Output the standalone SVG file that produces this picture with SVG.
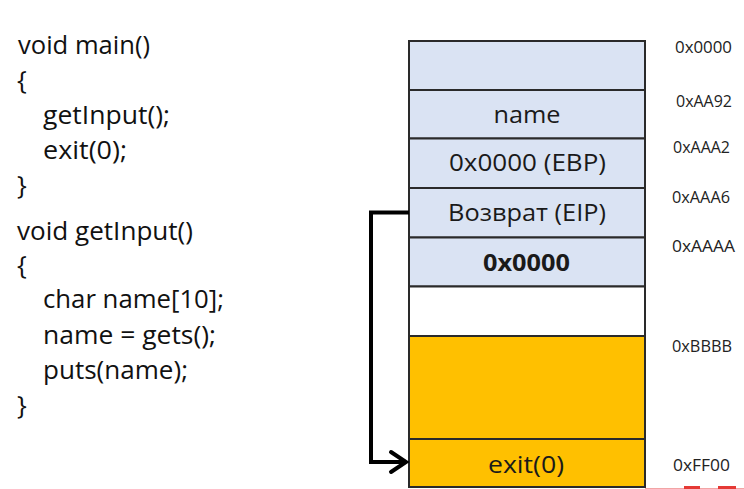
<svg xmlns="http://www.w3.org/2000/svg" width="744" height="489" viewBox="0 0 744 489">
  <defs>
    <style>
      .code { font-family: "Open Sans", "Liberation Sans", sans-serif; font-size: 26px; fill: #111; }
      .cell { font-family: "Open Sans", "Liberation Sans", sans-serif; font-size: 23.5px; fill: #1a1a1a; text-anchor: middle; }
      .bold { font-weight: bold; }
      .addr { font-family: "Open Sans", "Liberation Sans", sans-serif; font-size: 16px; fill: #222; }
      .blue { fill: #DAE3F3; stroke: #2a2a2a; stroke-width: 2; }
      .white { fill: #FFFFFF; stroke: #2a2a2a; stroke-width: 2; }
      .orange { fill: #FFC000; stroke: #2a2a2a; stroke-width: 2; }
      .conn { fill: none; stroke: #000; stroke-width: 4; stroke-linejoin: miter; }
      .head { fill: none; stroke: #000; stroke-width: 4; stroke-linecap: round; stroke-linejoin: miter; }
    </style>
  </defs>
  <rect width="744" height="489" fill="#FFFFFF"/>

  <g id="code">
    <text class="code" x="18" y="54" textLength="132" lengthAdjust="spacingAndGlyphs">void main()</text>
    <text class="code" x="17" y="89">{</text>
    <text class="code" x="43" y="124" textLength="127" lengthAdjust="spacingAndGlyphs">getInput();</text>
    <text class="code" x="43" y="159" textLength="84" lengthAdjust="spacingAndGlyphs">exit(0);</text>
    <text class="code" x="17" y="194">}</text>
    <text class="code" x="17" y="240" textLength="176" lengthAdjust="spacingAndGlyphs">void getInput()</text>
    <text class="code" x="17" y="274">{</text>
    <text class="code" x="43" y="308" textLength="181" lengthAdjust="spacingAndGlyphs">char name[10];</text>
    <text class="code" x="43" y="344" textLength="173" lengthAdjust="spacingAndGlyphs">name = gets();</text>
    <text class="code" x="43" y="379" textLength="145" lengthAdjust="spacingAndGlyphs">puts(name);</text>
    <text class="code" x="17" y="414">}</text>
  </g>

  <g id="cell-top"><rect class="blue" x="409" y="41" width="236" height="49"/></g>
  <g id="cell-name"><rect class="blue" x="409" y="90" width="236" height="48.5"/>
    <text class="cell" x="527" y="123" textLength="67" lengthAdjust="spacingAndGlyphs">name</text></g>
  <g id="cell-ebp"><rect class="blue" x="409" y="138.5" width="236" height="49.5"/>
    <text class="cell" x="527.5" y="171" textLength="157" lengthAdjust="spacingAndGlyphs">0x0000 (EBP)</text></g>
  <g id="cell-eip"><rect class="blue" x="409" y="188" width="236" height="49.5"/>
    <text class="cell" x="527" y="221" textLength="158" lengthAdjust="spacingAndGlyphs">Возврат (EIP)</text></g>
  <g id="cell-zero"><rect class="blue" x="409" y="237.5" width="236" height="49"/>
    <text class="cell bold" x="526.5" y="271" textLength="87" lengthAdjust="spacingAndGlyphs">0x0000</text></g>
  <g id="cell-empty"><rect class="white" x="409" y="286.5" width="236" height="49.5"/></g>
  <g id="cell-orange"><rect class="orange" x="409" y="336" width="236" height="103"/></g>
  <g id="cell-exit"><rect class="orange" x="409" y="439" width="236" height="48"/>
    <text class="cell" x="526" y="473" textLength="76" lengthAdjust="spacingAndGlyphs">exit(0)</text></g>

  <g id="addresses">
    <text class="addr" x="675" y="52.5" textLength="57" lengthAdjust="spacingAndGlyphs">0x0000</text>
    <text class="addr" x="676" y="106.5" textLength="56" lengthAdjust="spacingAndGlyphs">0xAA92</text>
    <text class="addr" x="673" y="152.5" textLength="57" lengthAdjust="spacingAndGlyphs">0xAAA2</text>
    <text class="addr" x="672" y="202.5" textLength="58" lengthAdjust="spacingAndGlyphs">0xAAA6</text>
    <text class="addr" x="672" y="251.5" textLength="63" lengthAdjust="spacingAndGlyphs">0xAAAA</text>
    <text class="addr" x="672" y="351.5" textLength="60" lengthAdjust="spacingAndGlyphs">0xBBBB</text>
    <text class="addr" x="673" y="470.5" textLength="57" lengthAdjust="spacingAndGlyphs">0xFF00</text>
  </g>

  <g id="connectors">
    <polyline class="conn" points="409,212.5 371,212.5 371,462 405,462"/>
    <polyline class="head" points="391,452 406,462 391,472"/>
  </g>

  <g id="edge-fragment">
    <line x1="645" y1="488.5" x2="744" y2="488.5" stroke="#F2A5A5" stroke-width="1"/>
    <rect x="684" y="486" width="16" height="3" fill="#E53935"/>
    <rect x="718" y="486" width="18" height="3" fill="#E53935"/>
  </g>
</svg>
